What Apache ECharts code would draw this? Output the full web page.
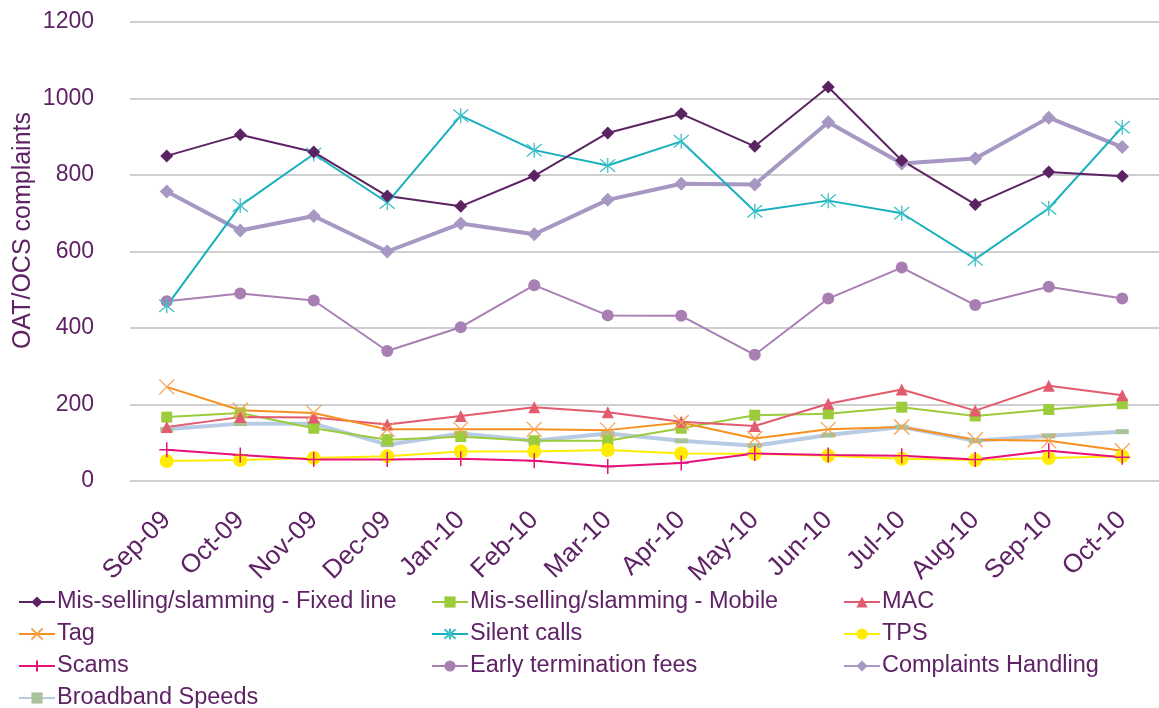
<!DOCTYPE html>
<html>
<head>
<meta charset="utf-8">
<style>
  html, body { margin: 0; padding: 0; background: #fff; }
  #chart { width: 1159px; height: 708px; }
</style>
<script src="https://cdn.jsdelivr.net/npm/echarts@6/dist/echarts.min.js"></script>
</head>
<body>
<div id="chart"></div>
<script>
	// ______________ DATA
	var months = ['Sep-09', 'Oct-09', 'Nov-09', 'Dec-09', 'Jan-10', 'Feb-10', 'Mar-10', 'Apr-10', 'May-10', 'Jun-10', 'Jul-10', 'Aug-10', 'Sep-10', 'Oct-10'];
	var yTicks = [0, 200, 400, 600, 800, 1000, 1200];

	var fixedLine = [850, 905, 860, 745, 718, 798, 910, 960, 875, 1030, 838, 723, 808, 797];
	var mobile = [167, 178, 138, 108, 116, 105, 105, 138, 172, 176, 193, 170, 187, 202];
	var mac = [141, 167, 166, 148, 170, 193, 180, 155, 144, 202, 239, 184, 249, 224];
	var tag = [246, 185, 178, 135, 135, 135, 133, 153, 111, 135, 141, 108, 105, 79];
	var silentCalls = [458, 720, 855, 728, 955, 865, 825, 888, 705, 733, 700, 580, 713, 925];
	var tps = [52, 55, 60, 65, 77, 77, 81, 72, 71, 66, 58, 55, 60, 65];
	var scams = [82, 68, 56, 56, 58, 53, 38, 47, 72, 68, 66, 56, 79, 62];
	var earlyTermination = [470, 490, 472, 340, 402, 512, 433, 432, 330, 477, 558, 460, 508, 477];
	var complaintsHandling = [757, 655, 693, 600, 673, 645, 735, 777, 775, 938, 830, 843, 950, 873];
	var broadband = [135, 150, 150, 95, 124, 105, 124, 105, 92, 120, 141, 105, 118, 129];

	var TEXT = '#5e2265';
	var FONT = 'Liberation Sans, Arial, sans-serif';

	var crossPath = 'path://M0,0L10,10M10,0L0,10';
	var starPath = 'path://M0,0L10,10M10,0L0,10M5,-1L5,11';
	var plusPath = 'path://M5,0L5,10M0,5L10,5';

	function line(name, data, color, symbol, size, width, extra) {
		var s = {
			name: name,
			type: 'line',
			data: data,
			symbol: symbol,
			symbolSize: size,
			showSymbol: true,
			lineStyle: { color: color, width: width },
			itemStyle: { color: color },
			emphasis: { disabled: true },
			animation: false
		};
		if (extra) {
			for (var k in extra) s[k] = extra[k];
		}
		return s;
	}

	var chart = echarts.init(document.getElementById('chart'));

	var legendBase = {
		orient: 'vertical',
		top: 590,
		height: 200,
		itemGap: 8,
		itemWidth: 36,
		itemHeight: 14,
		padding: 0,
		textStyle: { color: TEXT, fontSize: 23.5, fontFamily: FONT, padding: [0, 0, 0, -3] },
		selectedMode: false
	};

	chart.setOption({
		backgroundColor: '#fff',
		textStyle: { fontFamily: FONT },
		grid: { left: 130, right: -7, top: 22, bottom: 227, containLabel: false },
		legend: [
			Object.assign({}, legendBase, { left: 18, data: ['Mis-selling/slamming - Fixed line', 'Tag', 'Scams', 'Broadband Speeds'] }),
			Object.assign({}, legendBase, { left: 431, data: ['Mis-selling/slamming - Mobile', 'Silent calls', 'Early termination fees'] }),
			Object.assign({}, legendBase, { left: 843, data: ['MAC', 'TPS', 'Complaints Handling'] })
		],
		xAxis: {
			type: 'category',
			data: months,
			boundaryGap: true,
			axisLine: { show: false },
			axisTick: { show: false },
			axisLabel: { rotate: 45, color: TEXT, fontSize: 26, fontFamily: FONT, margin: 35, interval: 0 }
		},
		yAxis: {
			type: 'value',
			min: yTicks[0],
			max: yTicks[yTicks.length - 1],
			interval: 200,
			axisLine: { show: false },
			axisTick: { show: false },
			axisLabel: { color: TEXT, fontSize: 23, fontFamily: FONT, margin: 36, formatter: function(v) { return String(v); } },
			splitLine: { lineStyle: { color: '#cfcfcf', width: 2 } }
		},
		graphic: [{
			type: 'text',
			left: 11,
			top: 112,
			rotation: Math.PI / 2,
			style: { text: 'OAT/OCS complaints', fill: TEXT, font: '25px ' + FONT }
		}],
		series: [
			line('Broadband Speeds', broadband, '#b8cbe6', 'rect', [13, 5], 4, { itemStyle: { color: '#a9c29a' } }),
			line('Early termination fees', earlyTermination, '#a87fb3', 'circle', 12, 2),
			line('Complaints Handling', complaintsHandling, '#a698c2', 'diamond', 14, 4),
			line('Mis-selling/slamming - Mobile', mobile, '#9ccb3b', 'rect', 11, 2),
			line('MAC', mac, '#e35b6e', 'triangle', 12, 2),
			line('Tag', tag, '#f7901e', crossPath, 15, 2, { itemStyle: { color: '#f7901e', borderColor: '#f7a04e', borderWidth: 1.3 } }),
			line('TPS', tps, '#ffec00', 'circle', 14, 2),
			line('Scams', scams, '#e8107a', plusPath, 15, 2, { itemStyle: { color: '#e8107a', borderColor: '#e8107a', borderWidth: 1.5 } }),
			line('Silent calls', silentCalls, '#19b0bd', starPath, 15, 2, { itemStyle: { color: '#19b0bd', borderColor: '#3cc0c8', borderWidth: 1.3 } }),
			line('Mis-selling/slamming - Fixed line', fixedLine, '#5c2363', 'diamond', 13, 2)
		]
	});
</script>
</body>
</html>
